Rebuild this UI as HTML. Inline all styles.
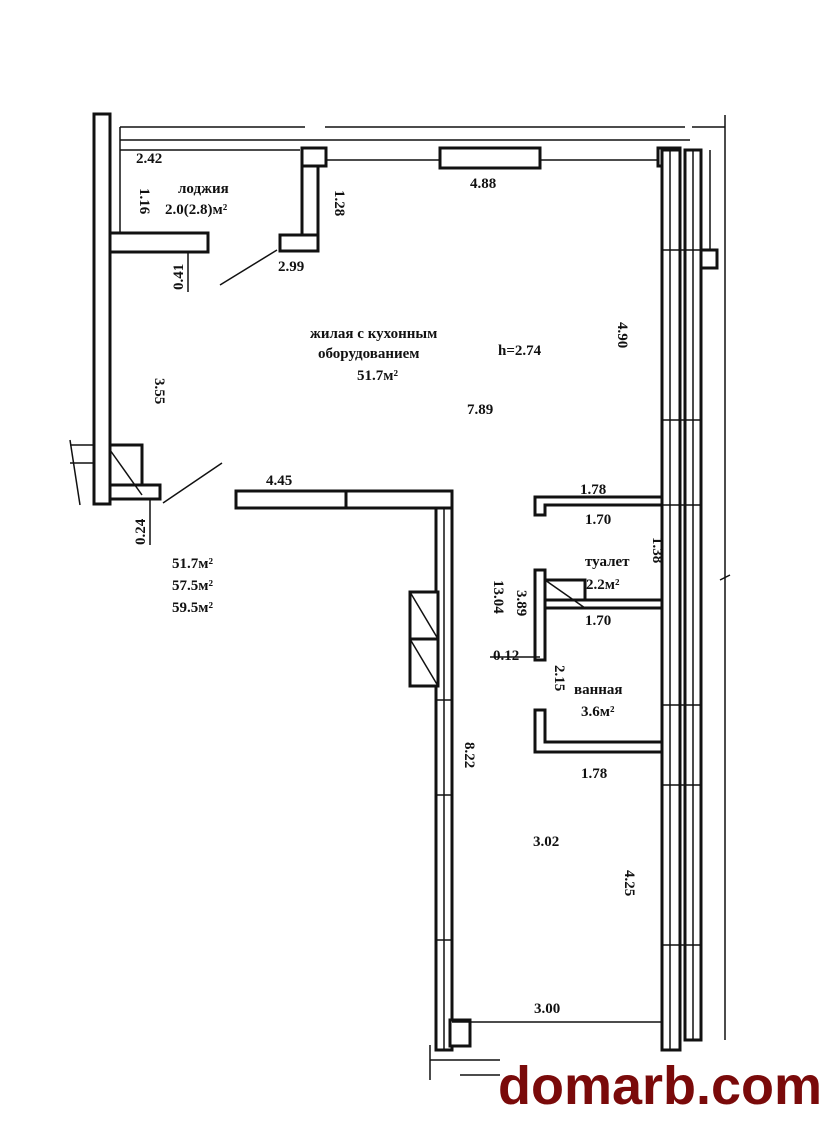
<!DOCTYPE html>
<html><head><meta charset="utf-8"><style>
html,body{margin:0;padding:0;background:#fff}
svg{display:block}
text{font-family:"Liberation Serif",serif;font-weight:bold;fill:#111}
</style></head><body>
<svg width="835" height="1125" viewBox="0 0 835 1125" xmlns="http://www.w3.org/2000/svg">
<rect width="835" height="1125" fill="#fff"/>
<g fill="#fff" stroke="#111" stroke-width="3">
<rect x="94" y="114" width="16" height="390"/>
<rect x="110" y="233" width="98" height="19"/>
<rect x="302" y="148" width="16" height="98"/>
<rect x="302" y="148" width="24" height="18"/>
<rect x="280" y="235" width="38" height="16"/>
<rect x="440" y="148" width="100" height="20"/>
<rect x="658" y="148" width="22" height="18"/>
<rect x="662" y="150" width="18" height="900"/>
<rect x="685" y="150" width="16" height="890"/>
<rect x="701" y="250" width="16" height="18"/>
<rect x="110" y="445" width="32" height="52"/>
<rect x="110" y="485" width="50" height="14"/>
<rect x="236" y="491" width="216" height="17"/>
<rect x="346" y="491" width="106" height="17"/>
<rect x="436" y="508" width="16" height="542"/>
<rect x="410" y="592" width="28" height="47"/>
<rect x="410" y="639" width="28" height="47"/>
<path d="M535 497 H662 V505 H545 V515 H535 Z"/>
<rect x="535" y="570" width="10" height="90"/>
<rect x="545" y="580" width="40" height="28"/>
<path d="M545 600 H662 V608 H545 Z"/>
<path d="M535 710 H545 V742 H662 V752 H535 Z"/>
<rect x="450" y="1020" width="20" height="26"/>
</g>
<g stroke="#111" stroke-width="1.5" fill="none">
<line x1="120" y1="127" x2="305" y2="127"/>
<line x1="120" y1="140" x2="325" y2="140"/>
<line x1="120" y1="150" x2="300" y2="150"/>
<line x1="120" y1="127" x2="120" y2="232"/>
<line x1="325" y1="127" x2="685" y2="127"/>
<line x1="325" y1="140" x2="690" y2="140"/>
<line x1="325" y1="160" x2="440" y2="160"/>
<line x1="540" y1="160" x2="658" y2="160"/>
<line x1="692" y1="127" x2="725" y2="127"/>
<line x1="725" y1="115" x2="725" y2="1040"/>
<line x1="710" y1="150" x2="710" y2="250"/>
<line x1="670" y1="150" x2="670" y2="1050"/>
<line x1="693" y1="150" x2="693" y2="1040"/>
<line x1="444" y1="508" x2="444" y2="1050"/>
<line x1="662" y1="250" x2="701" y2="250"/>
<line x1="662" y1="420" x2="701" y2="420"/>
<line x1="662" y1="505" x2="701" y2="505"/>
<line x1="662" y1="705" x2="701" y2="705"/>
<line x1="662" y1="785" x2="701" y2="785"/>
<line x1="662" y1="945" x2="701" y2="945"/>
<line x1="436" y1="700" x2="452" y2="700"/>
<line x1="436" y1="795" x2="452" y2="795"/>
<line x1="436" y1="940" x2="452" y2="940"/>
<line x1="110" y1="450" x2="142" y2="495"/>
<line x1="410" y1="592" x2="438" y2="639"/>
<line x1="410" y1="639" x2="438" y2="686"/>
<line x1="545" y1="580" x2="585" y2="608"/>
<line x1="452" y1="1022" x2="662" y2="1022"/>
<line x1="220" y1="285" x2="277" y2="250"/>
<line x1="163" y1="503" x2="222" y2="463"/>
<line x1="70" y1="440" x2="80" y2="505"/>
<line x1="70" y1="445" x2="94" y2="445"/>
<line x1="70" y1="463" x2="94" y2="463"/>
<line x1="188" y1="252" x2="188" y2="292"/>
<line x1="150" y1="500" x2="150" y2="545"/>
<line x1="490" y1="657" x2="540" y2="657"/>
<line x1="720" y1="580" x2="730" y2="575"/>
<line x1="430" y1="1045" x2="430" y2="1080"/>
<line x1="430" y1="1060" x2="500" y2="1060"/>
<line x1="460" y1="1075" x2="500" y2="1075"/>
</g>
<g font-size="15">
<text x="136" y="163">2.42</text>
<text x="178" y="193">лоджия</text>
<text x="165" y="214">2.0(2.8)м²</text>
<text x="278" y="271">2.99</text>
<text x="470" y="188">4.88</text>
<text x="310" y="338">жилая  с кухонным</text>
<text x="318" y="358">оборудованием</text>
<text x="357" y="380">51.7м²</text>
<text x="498" y="355">h=2.74</text>
<text x="467" y="414">7.89</text>
<text x="266" y="485">4.45</text>
<text x="580" y="494">1.78</text>
<text x="585" y="524">1.70</text>
<text x="585" y="566">туалет</text>
<text x="586" y="589">2.2м²</text>
<text x="585" y="625">1.70</text>
<text x="493" y="660">0.12</text>
<text x="574" y="694">ванная</text>
<text x="581" y="716">3.6м²</text>
<text x="581" y="778">1.78</text>
<text x="533" y="846">3.02</text>
<text x="534" y="1013">3.00</text>
<text x="172" y="568">51.7м²</text>
<text x="172" y="590">57.5м²</text>
<text x="172" y="612">59.5м²</text>
<text transform="translate(140,188) rotate(90)">1.16</text>
<text transform="translate(335,190) rotate(90)">1.28</text>
<text transform="translate(183,290) rotate(-90)">0.41</text>
<text transform="translate(155,378) rotate(90)">3.55</text>
<text transform="translate(145,545) rotate(-90)">0.24</text>
<text transform="translate(618,322) rotate(90)">4.90</text>
<text transform="translate(653,537) rotate(90)">1.38</text>
<text transform="translate(494,580) rotate(90)">13.04</text>
<text transform="translate(517,590) rotate(90)">3.89</text>
<text transform="translate(555,665) rotate(90)">2.15</text>
<text transform="translate(465,742) rotate(90)">8.22</text>
<text transform="translate(625,870) rotate(90)">4.25</text>
</g>
<text x="498" y="1104" font-size="54" style="fill:#7a0a0a;font-family:'Liberation Sans',sans-serif;font-weight:bold">domarb.com</text>
</svg>
</body></html>
